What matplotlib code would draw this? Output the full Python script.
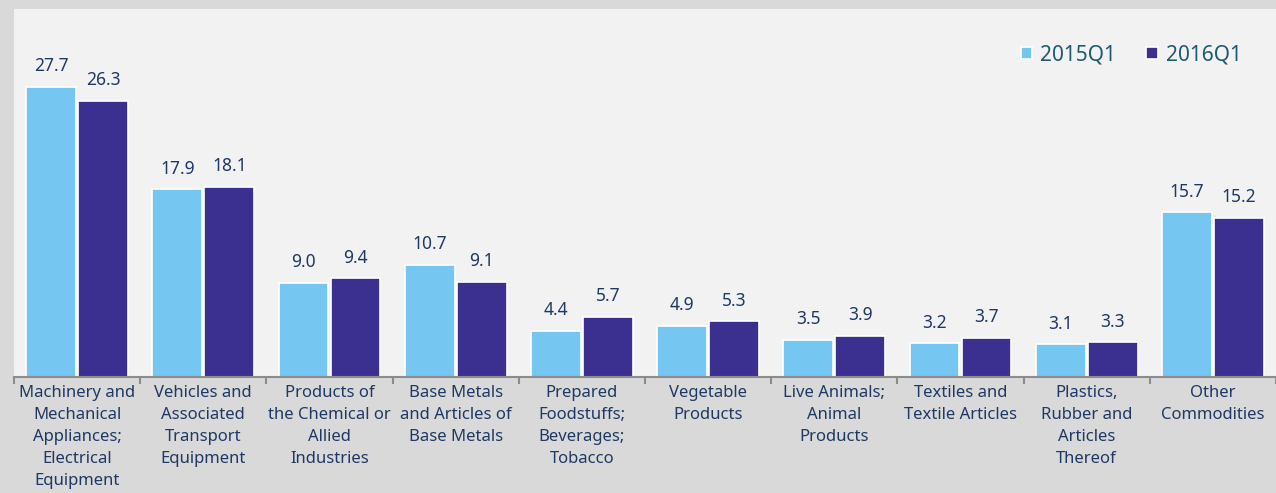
import matplotlib
matplotlib.use("Agg")
import matplotlib.pyplot as plt
import numpy as np

categories = [
    "Machinery and\nMechanical\nAppliances;\nElectrical\nEquipment",
    "Vehicles and\nAssociated\nTransport\nEquipment",
    "Products of\nthe Chemical or\nAllied\nIndustries",
    "Base Metals\nand Articles of\nBase Metals",
    "Prepared\nFoodstuffs;\nBeverages;\nTobacco",
    "Vegetable\nProducts",
    "Live Animals;\nAnimal\nProducts",
    "Textiles and\nTextile Articles",
    "Plastics,\nRubber and\nArticles\nThereof",
    "Other\nCommodities",
]
series_names = ["2015Q1", "2016Q1"]
v2015 = [27.7, 17.9, 9.0, 10.7, 4.4, 4.9, 3.5, 3.2, 3.1, 15.7]
v2016 = [26.3, 18.1, 9.4, 9.1, 5.7, 5.3, 3.9, 3.7, 3.3, 15.2]

c1 = "#75c6f0"
c2 = "#3b2f8f"
txt = "#1f3864"
plt.rcParams['font.family'] = ['Noto Sans', 'DejaVu Sans']

fig = plt.figure(figsize=(12.76, 4.93), dpi=100, facecolor="#d9d9d9")
ax = fig.add_axes([14/1276, 1-377/493, 1262/1276, 368/493])
ax.set_facecolor("#f2f2f2")

x = np.arange(len(categories))
w = 0.395
b1 = ax.bar(x - w/2 - 0.008, v2015, w, color=c1, edgecolor="white", linewidth=1.2, label=series_names[0])
b2 = ax.bar(x + w/2 + 0.008, v2016, w, color=c2, edgecolor="white", linewidth=1.2, label=series_names[1])
for bars, vals in ((b1, v2015), (b2, v2016)):
    for r, v in zip(bars, vals):
        ax.annotate(f"{v:.1f}", (r.get_x() + r.get_width()/2, v), xytext=(0, 8.5),
                    textcoords="offset points", ha="center", va="bottom",
                    fontsize=12.5, color=txt)

ax.set_xlim(-0.5, len(categories) - 0.5)
ax.set_ylim(0, 35.1)
ax.set_yticks([])
for s in ["top", "right", "left"]:
    ax.spines[s].set_visible(False)
ax.spines["bottom"].set_color("#8c8c8c")
ax.spines["bottom"].set_linewidth(1.5)
ax.set_xticks(x)
ax.set_xticklabels(categories, fontsize=12, color=txt, linespacing=1.5)
ax.tick_params(axis="x", length=0, pad=6)
ax.set_xticks(np.arange(-0.5, len(categories) + 0.5, 1), minor=True)
ax.tick_params(axis="x", which="minor", length=5, width=1.5, color="#8c8c8c")

leg = ax.legend(loc="upper right", bbox_to_anchor=(0.988, 0.955), ncol=2, frameon=False,
                fontsize=15, handlelength=0.55, handleheight=0.55, handletextpad=0.4,
                columnspacing=1.45)
for t in leg.get_texts():
    t.set_color("#1f5a6e")

fig.savefig("out.png", dpi=100, facecolor=fig.get_facecolor())
